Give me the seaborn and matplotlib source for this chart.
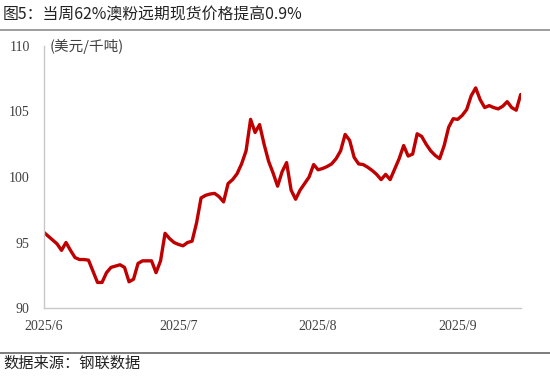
import matplotlib
matplotlib.use("Agg")
import matplotlib.pyplot as plt
import seaborn as sns
import pandas as pd
from matplotlib.lines import Line2D

# ---- data ----
dates = pd.date_range("2025-06-01", "2025-09-15", freq="D")
prices = [
    # June 1-30
    95.8, 95.5, 95.2, 94.9, 94.4, 95.0, 94.4, 93.85, 93.7, 93.7,
    93.65, 92.8, 91.95, 91.95, 92.7, 93.1, 93.2, 93.3, 93.1, 92.0,
    92.2, 93.4, 93.6, 93.6, 93.6, 92.7, 93.6, 95.7, 95.3, 95.0,
    # July 1-31
    94.85, 94.75, 95.0, 95.1, 96.5, 98.4, 98.6, 98.7, 98.75, 98.5,
    98.1, 99.5, 99.8, 100.25, 101.0, 102.0, 104.4, 103.4, 104.0, 102.5,
    101.2, 100.3, 99.3, 100.4, 101.1, 99.0, 98.3, 99.0, 99.5, 100.0,
    100.95,
    # August 1-31
    100.55, 100.65, 100.8, 101.0, 101.4, 102.0, 103.25, 102.8, 101.5, 101.0,
    100.95, 100.75, 100.5, 100.2, 99.8, 100.2, 99.8, 100.6, 101.4, 102.4,
    101.6, 101.75, 103.3, 103.1, 102.5, 102.0, 101.65, 101.4, 102.4, 103.8,
    104.45,
    # September 1-15
    104.4, 104.7, 105.15, 106.2, 106.8, 105.9, 105.3, 105.45, 105.3, 105.2,
    105.4, 105.75, 105.3, 105.1, 106.3,
]
tick_dates = ["2025-06-01", "2025-07-01", "2025-08-01", "2025-09-01"]
tick_labels = ["2025/6", "2025/7", "2025/8", "2025/9"]
y_ticks = [90, 95, 100, 105, 110]

title = "图5：当周62%澳粉远期现货价格提高0.9%"
unit = "(美元/千吨)"
source = "数据来源：钢联数据"

df = pd.DataFrame({"date": dates, "price": prices})

sns.set_style("white")
plt.rcParams["font.family"] = ["Noto Sans CJK SC", "DejaVu Sans"]

fig = plt.figure(figsize=(5.5, 3.81), dpi=100)
ax = fig.add_axes([43.5 / 550, 1 - 308 / 381, (520.7 - 43.5) / 550, (308 - 46) / 381])

sns.lineplot(data=df, x="date", y="price", ax=ax, color="#C00000",
             linewidth=2.4, solid_joinstyle="round", solid_capstyle="round")

ax.set_xlim(pd.Timestamp("2025-06-01"), pd.Timestamp("2025-09-15"))
ax.set_ylim(90, 110)
ax.set_xticks(pd.to_datetime(tick_dates))
ax.set_xticklabels(tick_labels)
ax.set_yticks(y_ticks)
ax.set_xlabel("")
ax.set_ylabel("")

spine_col = "#C8C8C8"
for s in ["top", "right"]:
    ax.spines[s].set_visible(False)
for s in ["left", "bottom"]:
    ax.spines[s].set_color(spine_col)
    ax.spines[s].set_linewidth(1.0)

ax.tick_params(axis="both", direction="in", length=5, width=1.0, color=spine_col,
               labelcolor="#404040")
ax.tick_params(axis="y", pad=10)
ax.tick_params(axis="x", pad=9)
for lab in ax.get_xticklabels() + ax.get_yticklabels():
    lab.set_fontfamily("Liberation Serif")
    lab.set_fontsize(10)

ax.text(0.012, 1.0, unit, transform=ax.transAxes, ha="left", va="center",
        fontsize=10.5, color="#404040")

fig.text(3 / 550, 1 - 15 / 381, title, ha="left", va="center", fontsize=11.4,
         color="#222222", fontweight="medium")
fig.text(3 / 550, 1 - 363 / 381, source, ha="left", va="center", fontsize=11,
         color="#222222")

fig.add_artist(Line2D([0, 1], [1 - 30 / 381, 1 - 30 / 381], transform=fig.transFigure,
                      color="#8C8C8C", linewidth=1.2))
fig.add_artist(Line2D([0, 1], [1 - 352.5 / 381, 1 - 352.5 / 381], transform=fig.transFigure,
                      color="#666666", linewidth=1.2))

fig.savefig("out.png", dpi=100)
